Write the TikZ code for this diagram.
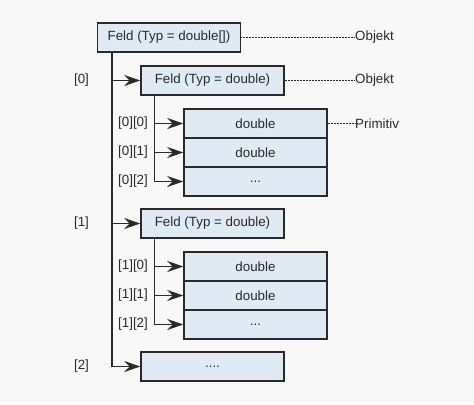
\documentclass[tikz,border=0pt]{standalone}
\usepackage{fontspec}
\setmainfont{Liberation Sans}
\usetikzlibrary{arrows.meta}
\definecolor{bg}{HTML}{F8F8F8}
\definecolor{boxfill}{HTML}{DFEAF4}
\definecolor{ln}{HTML}{2A2A2A}
\begin{document}
\begin{tikzpicture}[x=1bp,y=-1bp,
  box/.style={draw=ln, fill=boxfill, line width=1.5bp, minimum width=143bp, minimum height=29bp, inner sep=0pt, font=\fontsize{13.4}{15}\selectfont, text=ln},
  lbl/.style={inner sep=0pt, font=\fontsize{13.4}{15}\selectfont, text=ln},
  conn/.style={draw=ln, line width=1.5bp},
  arr/.style={conn, -{Stealth[length=16bp,width=11bp,inset=5.5bp]}},
  dots/.style={draw=ln, line width=0.6bp, dash pattern=on 0.6bp off 0.9bp}]
\fill[bg] (0,0) rectangle (474,404);
\useasboundingbox (0,0) rectangle (474,404);
% boxes
\node[box] (b1) at (169,37.5) {Feld (Typ = double[])};
\node[box] (b2) at (212.5,80.5) {Feld (Typ = double)};
\node[box] (r00) at (255.5,123.5) {double};
\node[box] (r01) at (255.5,152.5) {double};
\node[box] (r02) at (255.5,181.5) {...};
\node[box] (b3) at (212.5,223.5) {Feld (Typ = double)};
\node[box] (r10) at (255.5,266.5) {double};
\node[box] (r11) at (255.5,295.5) {double};
\node[box] (r12) at (255.5,324.5) {...};
\node[box] (b4) at (212.5,366.5) {....};
% right labels
\node[lbl, anchor=west] (o1) at (355,37.5) {Objekt};
\node[lbl, anchor=west] (o2) at (355,80.5) {Objekt};
\node[lbl, anchor=west] (p1) at (355,123.5) {Primitiv};
\draw[dots] (b1.east) -- (o1.west);
\draw[dots] (b2.east) -- (o2.west);
\draw[dots] (r00.east) -- (p1.west);
% index labels
\node[lbl] (i0) at (81.5,80.5) {[0]};
\node[lbl] (i1) at (81.5,223.5) {[1]};
\node[lbl] (i2) at (81.5,366.5) {[2]};
\node[lbl] (i00) at (133,123.5) {[0][0]};
\node[lbl] (i01) at (133,152.5) {[0][1]};
\node[lbl] (i02) at (133,181.5) {[0][2]};
\node[lbl] (i10) at (133,266.5) {[1][0]};
\node[lbl] (i11) at (133,295.5) {[1][1]};
\node[lbl] (i12) at (133,324.5) {[1][2]};
% connectors
\coordinate (v1) at (112,0);
\coordinate (v2) at (154.5,0);
\draw[arr] (v1 |- b1.south) |- (b4.west);
\draw[arr] (v1 |- b2.west) -- (b2.west);
\draw[arr] (v1 |- b3.west) -- (b3.west);
\draw[arr] (v2 |- b2.south) |- (r02.west);
\draw[arr] (v2 |- r00.west) -- (r00.west);
\draw[arr] (v2 |- r01.west) -- (r01.west);
\draw[arr] (v2 |- b3.south) |- (r12.west);
\draw[arr] (v2 |- r10.west) -- (r10.west);
\draw[arr] (v2 |- r11.west) -- (r11.west);
\end{tikzpicture}
\end{document}
